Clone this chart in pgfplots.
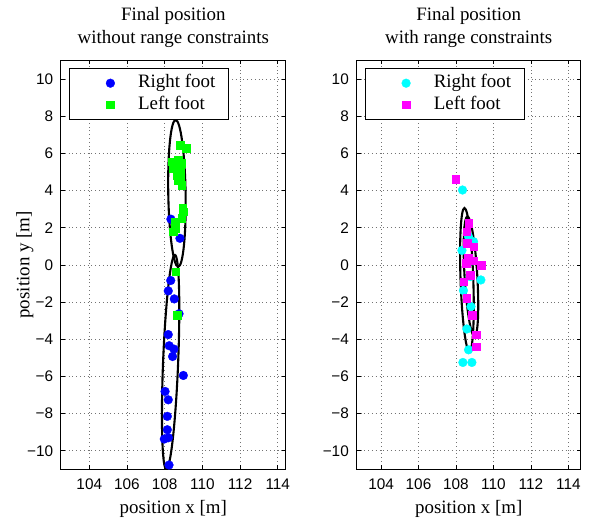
\documentclass[border=0pt]{standalone}
\usepackage{fontspec}
\setmainfont{Liberation Serif}
\newfontfamily\helv{Liberation Sans}
\usepackage{pgfplots}
\pgfplotsset{compat=1.18}

\definecolor{rfootA}{rgb}{0,0,1}
\definecolor{lfootA}{rgb}{0,1,0}
\definecolor{rfootB}{rgb}{0,1,1}
\definecolor{lfootB}{rgb}{1,0,1}

\tikzset{ell/.style={black, line width=2.1bp}}

\pgfplotsset{
  footaxis/.style={
    scale only axis, height=408.8bp, anchor=south west,
    ymin=-11, ymax=11,
    xtick={104,106,...,114}, xticklabels={104,106,108,110,112,114},
    ytick={-10,-8,...,10}, yticklabels={−10,−8,−6,−4,−2,0,2,4,6,8,10},
    tick align=inside, major tick length=4bp,
    tick style={black, line width=0.7bp},
    axis line style={black, line width=1bp},
    grid=major,
    grid style={black!55, line width=0.6bp, dash pattern=on 0.6bp off 3.2bp},
    ticklabel style={font=\fontsize{15.4}{18}\helv, inner sep=0pt},
    xticklabel style={yshift=-9bp},
    yticklabel style={xshift=-7.7bp},
    every axis x label/.style={at={(axis description cs:0.5,-0.1093)}, anchor=base,
      font=\fontsize{19}{22.6}\selectfont},
    every axis y label/.style={at={(axis description cs:-0.1411,0.5)}, rotate=90, anchor=base,
      font=\fontsize{19}{22.6}\selectfont},
    title style={at={(axis description cs:0.5,1)}, anchor=south, yshift=7bp,
      align=center, inner sep=0pt, font=\fontsize{19}{22.6}\selectfont},
    legend style={at={(axis description cs:0,1)}, anchor=north west, xshift=8bp, yshift=-7.8bp,
      draw=black, line width=0.8bp, inner xsep=13.1bp, inner ysep=6bp,
      row sep=4.6bp, column sep=10.7bp, font=\fontsize{19}{22.6}\selectfont,
      nodes={inner sep=0pt, text height=13bp, text depth=4bp}},
    legend cell align=left,
    legend image code/.code={\path[draw=none] (0bp,0bp) -- (44.9bp,0bp);
      \draw[##1] plot coordinates {(27.9bp,0bp)};},
    xlabel={position x [m]},
  },
  rmark/.style={only marks, mark=*, mark size=4.4bp, line width=0.3bp},
  lmark/.style={only marks, mark=square*, mark size=3.8bp, line width=0.3bp},
}

\begin{document}
\begin{tikzpicture}
\useasboundingbox (0,0) rectangle (589bp,523bp);

% left: without range constraints
\begin{axis}[footaxis, at={(61bp,53.7bp)}, width=224.7bp,
  xmin=102.5, xmax=114.42,
  ylabel={position y [m]},
  title={Final position\\without range constraints}]
\addplot[rmark, color=rfootA] coordinates {
  (108.81,1.43) (108.33,2.46) (108.32,-0.84) (108.19,-1.40) (108.51,-1.83)
  (108.76,-2.63) (108.19,-3.75) (108.24,-4.35) (108.49,-4.53) (108.42,-4.93)
  (108.99,-5.95) (108.02,-6.81) (108.19,-7.26) (108.14,-8.15) (108.14,-8.87)
  (107.98,-9.37) (108.20,-9.30) (108.23,-10.77)
};
\addlegendentry{Right foot}
\addplot[lmark, color=lfootA] coordinates {
  (108.81,6.45) (109.13,6.29) (108.37,5.55) (108.72,5.65) (108.90,5.47)
  (108.46,5.20) (108.81,5.11) (108.64,4.84) (108.81,4.75) (108.72,4.57)
  (108.90,4.30) (108.95,3.05) (108.99,2.87) (108.90,2.51) (108.55,2.33)
  (108.55,1.97) (108.46,1.79) (108.58,-0.36) (108.67,-2.70)
};
\addlegendentry{Left foot}
\draw[ell] (axis cs:108.65,3.85) ellipse [x radius=0.46, y radius=3.95, rotate=1.0];
\draw[ell] (axis cs:108.315,-5.23) ellipse [x radius=0.40, y radius=5.77, rotate=-2.3];
\end{axis}

% right: with range constraints
\begin{axis}[footaxis, at={(356.7bp,53.7bp)}, width=224bp,
  xmin=102.7, xmax=114.66,
  title={Final position\\with range constraints}]
\addplot[rmark, color=rfootB] coordinates {
  (108.35,4.03) (108.67,1.52) (108.94,1.25) (108.32,0.78) (108.85,0.22)
  (109.33,-0.81) (108.76,-0.63) (108.40,-1.38) (108.80,-2.24) (108.58,-3.45)
  (108.67,-4.57) (108.37,-5.25) (108.85,-5.25)
};
\addlegendentry{Right foot}
\addplot[lmark, color=lfootB] coordinates {
  (107.99,4.61) (108.67,2.24) (108.58,1.79) (108.61,1.17) (108.94,0.98)
  (108.55,0.09) (108.94,0.23) (109.33,0.00) (108.64,0.36) (108.76,-0.54)
  (108.40,-0.90) (108.58,-1.79) (108.85,-2.69) (109.08,-3.76) (109.08,-4.39)
};
\addlegendentry{Left foot}
\draw[ell] (axis cs:108.585,-0.80) ellipse [x radius=0.34, y radius=3.86, rotate=2.0];
\draw[ell] (axis cs:108.80,-0.62) ellipse [x radius=0.34, y radius=3.23, rotate=3.4];
\end{axis}
\end{tikzpicture}
\end{document}
